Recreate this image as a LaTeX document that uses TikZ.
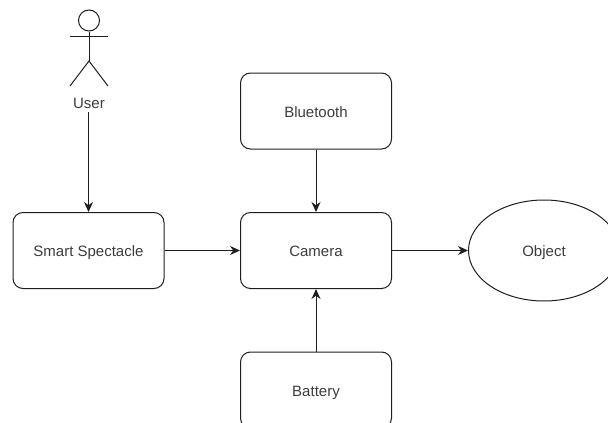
\documentclass[tikz,border=0pt]{standalone}
\usepackage{fontspec}
\setmainfont{Liberation Sans}
\usetikzlibrary{shapes,arrows.meta,positioning}
\definecolor{ink}{RGB}{30, 30, 30}
\definecolor{label}{RGB}{60, 60, 60}
\tikzstyle{block} = [rectangle, rounded corners=10pt, draw=ink, line width=1pt, text=label, text centered, font=\fontsize{15}{18}\selectfont, text height=15pt, text depth=3pt, minimum width=151pt, minimum height=76pt]
\tikzstyle{target} = [ellipse, draw=ink, line width=1pt, text=label, font=\fontsize{15}{18}\selectfont, text height=15pt, text depth=3pt, minimum width=151pt, minimum height=101pt]
\tikzstyle{limb} = [draw=ink, line width=1pt]
\tikzstyle{tedge} = [draw=ink, line width=1pt, -{Stealth[length=10pt,width=9pt]}]

\begin{document}
\begin{tikzpicture}[x=1pt,y=1pt]
\useasboundingbox (0,0) rectangle (608,-423);
\clip (0,0) rectangle (608,-423);

% blocks
\node[block] at (316,-250.5) (camera) {Camera};
\node[block, left=75.5pt of camera] (spectacle) {Smart Spectacle};
\node[block, above=62.5pt of camera] (bluetooth) {Bluetooth};
\node[block, below=62.5pt of camera] (battery) {Battery};
\node[target, right=76pt of camera] (object) {Object};

% user
\node[circle, limb, minimum size=21pt, inner sep=0pt] at (89,-20.5) (head) {};
\coordinate (hip) at (89,-61);
\coordinate (handl) at (70,-36);
\coordinate (handr) at (108,-36);
\coordinate (footl) at (70,-86);
\coordinate (footr) at (108,-86);
\node[text=label, font=\fontsize{15}{18}\selectfont, inner sep=0pt, text height=13pt, text depth=3pt, minimum height=18pt] at (89,-103) (user) {User};
\path[limb] (head.south) -- (hip);
\path[limb] (handl) -- (handr);
\path[limb] (footl) -- (hip) -- (footr);

% edges
\path[tedge] (user.south -| spectacle.north) -- (spectacle.north);
\path[tedge] (spectacle) -- (camera);
\path[tedge] (bluetooth) -- (camera);
\path[tedge] (battery) -- (camera);
\path[tedge] (camera) -- (object);

\end{tikzpicture}
\end{document}
